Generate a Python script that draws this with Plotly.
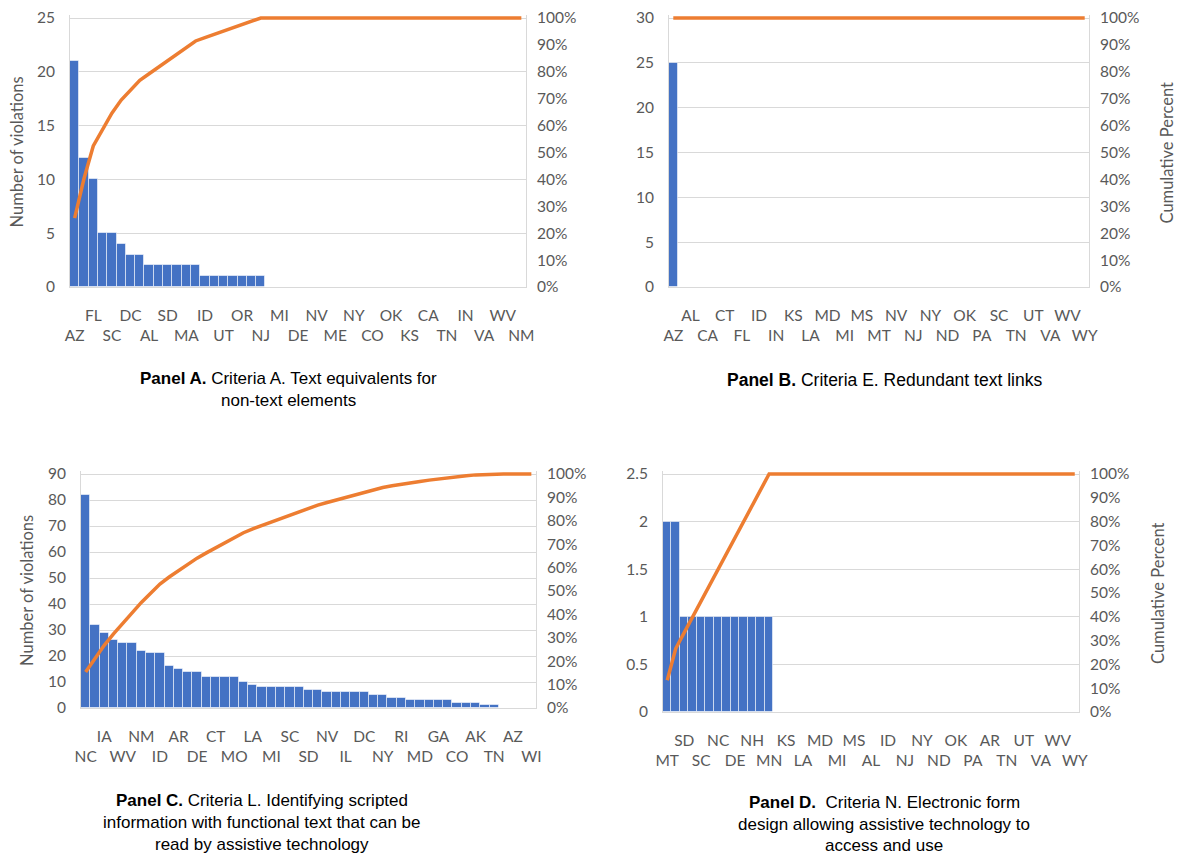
import plotly.graph_objects as go

# The page body adds an 8px margin, so the figure is drawn 8px in from the
# window's top-left corner; all pixel positions below are window positions.
OFF = 8
W, H = 1184 - OFF, 856 - OFF
N_CAT = 49

# ---------------- data ----------------
a_labels = ["AZ", "FL", "SC", "DC", "AL", "SD", "MA", "ID", "UT", "OR", "NJ", "MI", "DE",
            "NV", "ME", "NY", "CO", "OK", "KS", "CA", "TN", "IN", "VA", "WV", "NM"]
a_counts = [21, 12, 10, 5, 5, 4, 3, 3, 2, 2, 2, 2, 2, 2, 1, 1, 1, 1, 1, 1, 1] + [0] * 28

b_labels = ["AZ", "AL", "CA", "CT", "FL", "ID", "IN", "KS", "LA", "MD", "MI", "MS", "MT",
            "NV", "NJ", "NY", "ND", "OK", "PA", "SC", "TN", "UT", "VA", "WV", "WY"]
b_counts = [25] + [0] * 48

c_labels = ["NC", "IA", "WV", "NM", "ID", "AR", "DE", "CT", "MO", "LA", "MI", "SC", "SD",
            "NV", "IL", "DC", "NY", "RI", "MD", "GA", "CO", "AK", "TN", "AZ", "WI"]
c_counts = [82, 32, 29, 26, 25, 25, 22, 21, 21, 16, 15, 14, 14, 12, 12, 12, 12, 10, 9,
            8, 8, 8, 8, 8, 7, 7, 6, 6, 6, 6, 6, 5, 5, 4, 4, 3, 3, 3, 3, 3, 2, 2, 2, 1, 1,
            0, 0, 0, 0]

d_labels = ["MT", "SD", "SC", "NC", "DE", "NH", "MN", "KS", "LA", "MD", "MI", "MS", "AL",
            "ID", "NJ", "NY", "ND", "OK", "PA", "AR", "TN", "UT", "VA", "WV", "WY"]
d_counts = [2, 2, 1, 1, 1, 1, 1, 1, 1, 1, 1, 1, 1] + [0] * 36

left_max = [25, 30, 90, 2.5]
left_step = [5, 5, 10, 0.5]

panel_titles = [
    [("Panel A.", "Criteria A. Text equivalents for"), (None, "non-text elements")],
    [("Panel B.", "Criteria E. Redundant text links")],
    [("Panel C.", "Criteria L. Identifying scripted"),
     (None, "information with functional text that can be"),
     (None, "read by assistive technology")],
    [("Panel D.", " Criteria N. Electronic form"),
     (None, "design allowing assistive technology to"),
     (None, "access and use")],
]

# ---------------- layout geometry (window pixels) ----------------
boxes = [  # x0, x1, ytop, ybottom
    (70, 526, 18, 287),
    (669, 1089, 18, 287),
    (81, 536, 474, 708),
    (663, 1079, 474, 712),
]
title_pos = [  # center x, list of line center y
    (288, [378, 400]),
    (884, [380]),
    (262, [800, 822, 844]),
    (884, [802, 824, 845]),
]
title_size = [17, 17.5, 17, 17]
left_title = [(17, "Number of violations"), None, (27, "Number of violations"), None]
right_title = [None, (1167, "Cumulative Percent"), None, (1158, "Cumulative Percent")]


def fx(px):
    return (px - OFF) / W


def fy(py):
    return 1 - (py - OFF) / H


BAR = "#4472C4"
LINE = "#ED7D31"
GRID = "#D9D9D9"
TXT = "#595959"
FAM = "Lato, Calibri, sans-serif"
TICKFONT = dict(family=FAM, size=15.5, color=TXT)
PAD = 3  # extra px above top gridline so the 100% line is not clipped

fig = go.Figure()
layout = dict(width=W, height=H, margin=dict(l=0, r=0, t=0, b=0, autoexpand=False),
              paper_bgcolor="white", plot_bgcolor="white", showlegend=False,
              bargap=0, annotations=[])

all_labels = [a_labels, b_labels, c_labels, d_labels]
all_counts = [a_counts, b_counts, c_counts, d_counts]

for i in range(4):
    labels = all_labels[i]
    counts = all_counts[i]
    ranks = list(range(1, N_CAT + 1))
    total = sum(counts)
    cum = []
    s = 0
    for c in counts:
        s += c
        cum.append(s / total)

    xn = "x" if i == 0 else f"x{i+1}"
    yl = "y" if i == 0 else f"y{2*i+1}"
    yr = f"y{2*i+2}"
    xkey = "xaxis" if i == 0 else f"xaxis{i+1}"
    ylkey = "yaxis" if i == 0 else f"yaxis{2*i+1}"
    yrkey = f"yaxis{2*i+2}"

    x0, x1, yt, yb = boxes[i]
    h = yb - yt
    scale = (h + PAD) / h
    dom_y = [fy(yb), fy(yt - PAD)]

    fig.add_trace(go.Bar(x=ranks, y=counts, xaxis=xn, yaxis=yl,
                         marker=dict(color=BAR, line=dict(color="rgba(255,255,255,0.55)", width=1)),
                         hoverinfo="x+y"))
    fig.add_trace(go.Scatter(x=ranks, y=cum, xaxis=xn, yaxis=yr, mode="lines",
                             line=dict(color=LINE, width=3.5), hoverinfo="y"))

    tickvals = [2 * k + 1 for k in range(len(labels))]
    ticktext = [("<br>" + lab) if k % 2 == 0 else lab for k, lab in enumerate(labels)]

    layout[xkey] = dict(domain=[fx(x0), fx(x1)], anchor=yl, range=[0.5, N_CAT + 0.5],
                        tickmode="array", tickvals=tickvals, ticktext=ticktext,
                        tickangle=0, ticks="", showgrid=False, zeroline=False,
                        showline=True, linecolor=GRID, linewidth=1, automargin=False,
                        ticklabeloverflow="allow",
                        tickfont=TICKFONT, ticklabelstandoff=14, fixedrange=True)
    vmax = left_max[i]
    nsteps = int(round(vmax / left_step[i]))
    lvals = [round(left_step[i] * k, 3) for k in range(nsteps + 1)]
    ltext = [("%g" % v) for v in lvals]
    layout[ylkey] = dict(domain=dom_y, anchor=xn, range=[0, vmax * scale],
                         tickmode="array", tickvals=lvals, ticktext=ltext,
                         showgrid=True, gridcolor=GRID, gridwidth=1, zeroline=False,
                         showline=True, linecolor=GRID, linewidth=1, mirror=True,
                         automargin=False, ticklabeloverflow="allow",
                         ticks="", tickfont=TICKFONT, ticklabelstandoff=11, fixedrange=True)
    rvals = [k / 10 for k in range(11)]
    layout[yrkey] = dict(overlaying=yl, anchor=xn, side="right", range=[0, scale],
                         tickmode="array", tickvals=rvals, ticktext=[f"{k*10}%" for k in range(11)],
                         showgrid=False, zeroline=False, showline=False, ticks="",
                         automargin=False, ticklabeloverflow="allow",
                         tickfont=TICKFONT, ticklabelstandoff=10, fixedrange=True)

    # axis titles
    for spec in (left_title[i], right_title[i]):
        if spec:
            tx, tt = spec
            layout["annotations"].append(dict(xref="paper", yref="paper", x=fx(tx),
                                              y=fy((yt + yb) / 2), text=tt, textangle=-90,
                                              showarrow=False, xanchor="center", yanchor="middle",
                                              font=dict(family=FAM, size=16.5, color=TXT)))

    # panel captions
    cx, ys = title_pos[i]
    for (bold, rest), ly in zip(panel_titles[i], ys):
        txt = (f"<b>{bold}</b> " + rest) if bold else rest
        layout["annotations"].append(dict(xref="paper", yref="paper", x=fx(cx), y=fy(ly),
                                          text=txt, showarrow=False, xanchor="center",
                                          yanchor="middle",
                                          font=dict(family="Liberation Sans, Arial, sans-serif",
                                                    size=title_size[i], color="#000000")))

fig.update_layout(**layout)
fig.write_html("out.html")
